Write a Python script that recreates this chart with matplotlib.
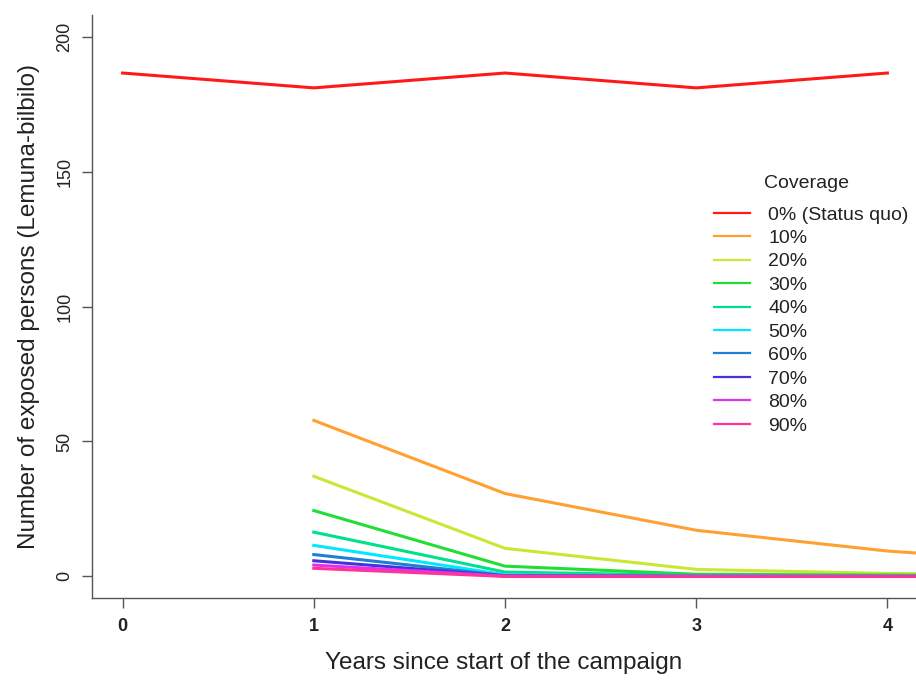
import matplotlib
matplotlib.use("Agg")
import matplotlib.pyplot as plt

# years since start of the campaign
years_sq = [0, 1, 2, 3, 4]
years = [1, 2, 3, 4, 5]

# status quo (0% coverage)
status_quo = [186.5, 181.0, 186.5, 181.0, 186.5]

# coverage scenarios, values at years 1..5
cov_10 = [57.8, 30.7, 17.1, 9.4, 4.5]
cov_20 = [37.1, 10.4, 2.6, 1.1, 0.5]
cov_30 = [24.4, 3.8, 0.8, 0.5, 0.3]
cov_40 = [16.4, 1.6, 0.4, 0.2, 0.1]
cov_50 = [11.5, 0.6, 0.2, 0.1, 0.0]
cov_60 = [8.1, 0.3, 0.1, 0.0, 0.0]
cov_70 = [5.8, 0.2, 0.0, 0.0, 0.0]
cov_80 = [4.2, 0.1, 0.0, 0.0, 0.0]
cov_90 = [3.0, 0.0, 0.0, 0.0, 0.0]

labels = ["0% (Status quo)", "10%", "20%", "30%", "40%", "50%",
          "60%", "70%", "80%", "90%"]
colors = ["#ff1a1a", "#ffa030", "#cce634", "#22dd33", "#00e08c",
          "#00e8ff", "#1f7fd6", "#4433dd", "#dd33ee", "#ff3399"]

plt.rcParams['font.family'] = ['Liberation Sans', 'DejaVu Sans']

fig = plt.figure(figsize=(9.16, 6.81), dpi=100)
ax = fig.add_axes([92/916, 83/681, 826/916, 583/681])

handles = []
h, = ax.plot(years_sq, status_quo, color=colors[0], lw=2.2)
handles.append(h)
series = [cov_10, cov_20, cov_30, cov_40, cov_50, cov_60, cov_70, cov_80, cov_90]
for s, c in zip(series, colors[1:]):
    h, = ax.plot(years, s, color=c, lw=2.2)
    handles.append(h)

ax.set_xlim(-0.16, 4.16)
ax.set_ylim(-8, 208)
ax.set_xticks([0, 1, 2, 3, 4])
ax.set_yticks([0, 50, 100, 150, 200])
ax.set_yticklabels(["0", "50", "100", "150", "200"], rotation=90, va="center")

for side in ["top", "right"]:
    ax.spines[side].set_visible(False)
for side in ["left", "bottom"]:
    ax.spines[side].set_color("#555555")
    ax.spines[side].set_linewidth(1.0)
ax.tick_params(axis="both", direction="out", length=7.5, width=1.0,
               color="#555555", labelsize=13, labelcolor="#222222")
ax.tick_params(axis="x", pad=7)
ax.tick_params(axis="y", pad=6)
for t in ax.get_xticklabels():
    t.set_fontweight("bold")

ax.set_xlabel("Years since start of the campaign", fontsize=17.5, color="#222222")
ax.set_ylabel("Number of exposed persons (Lemuna-bilbilo)", fontsize=17.5,
              color="#222222")
ax.xaxis.set_label_coords(0.498, -0.093)
ax.yaxis.set_label_coords(-0.063, 0.5)

fig.text(764/916, 1 - 183/681, "Coverage", fontsize=14, color="#222222",
         ha="left", va="center")
leg = fig.legend(handles, labels, loc="upper left",
                 bbox_to_anchor=(714/916, 1 - 206/681), frameon=False,
                 fontsize=14, handlelength=1.85, handletextpad=0.93,
                 labelspacing=0.3, borderpad=0, borderaxespad=0)
for t in leg.get_texts():
    t.set_color("#222222")
for l in leg.get_lines():
    l.set_linewidth(1.6)

fig.savefig("out.png", dpi=100)
